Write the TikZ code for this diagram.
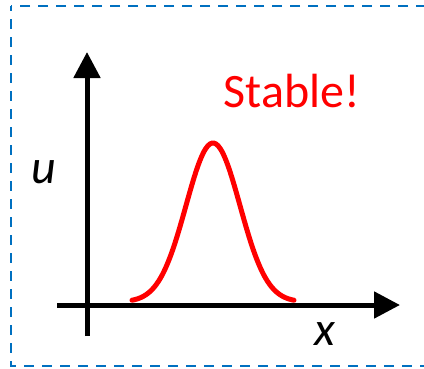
\documentclass[tikz,border=0pt]{standalone}
\usepackage{fontspec}
\setmainfont{Carlito}
\usetikzlibrary{arrows.meta}
\definecolor{frameblue}{RGB}{0,112,192}
\begin{document}
\begin{tikzpicture}[x=1pt, y=-1pt, font=\fontsize{48}{52}\selectfont]
        \tikzstyle{axis}=[line width=5pt, -{Triangle[length=26pt, width=26pt]}]
        \tikzstyle{frame}=[draw=frameblue, line width=2.6pt, dash pattern=on 10pt off 8pt, dash phase=5pt]
        \tikzstyle{wave}=[draw=red, line width=5pt, line cap=round]

        \useasboundingbox (0,0) rectangle (424,368);
        \clip (0,0) rectangle (424,368);
        \draw[frame] (11,6) rectangle (432,366);

        % ejes
        \coordinate (ybot) at (87,336); \coordinate (ytop) at (87,52);
        \coordinate (xleft) at (57,305); \coordinate (xright) at (400,305);
        \draw[axis] (ybot) -- (ytop);
        \draw[axis] (xleft) -- (xright);

        % pulso
        \draw[wave] plot[domain=132:294, samples=80, smooth] (\x, {302 - 159*exp(-((\x-213)^2)/(2*27*27))});

        \node[anchor=base, text=red] (stable) at (292,107) {Stable!};
        \node[anchor=base] (ulabel) at (44,183) {\itshape u};
        \node[anchor=base] (xlabel) at (325,345) {\itshape x};
    \end{tikzpicture}
\end{document}
